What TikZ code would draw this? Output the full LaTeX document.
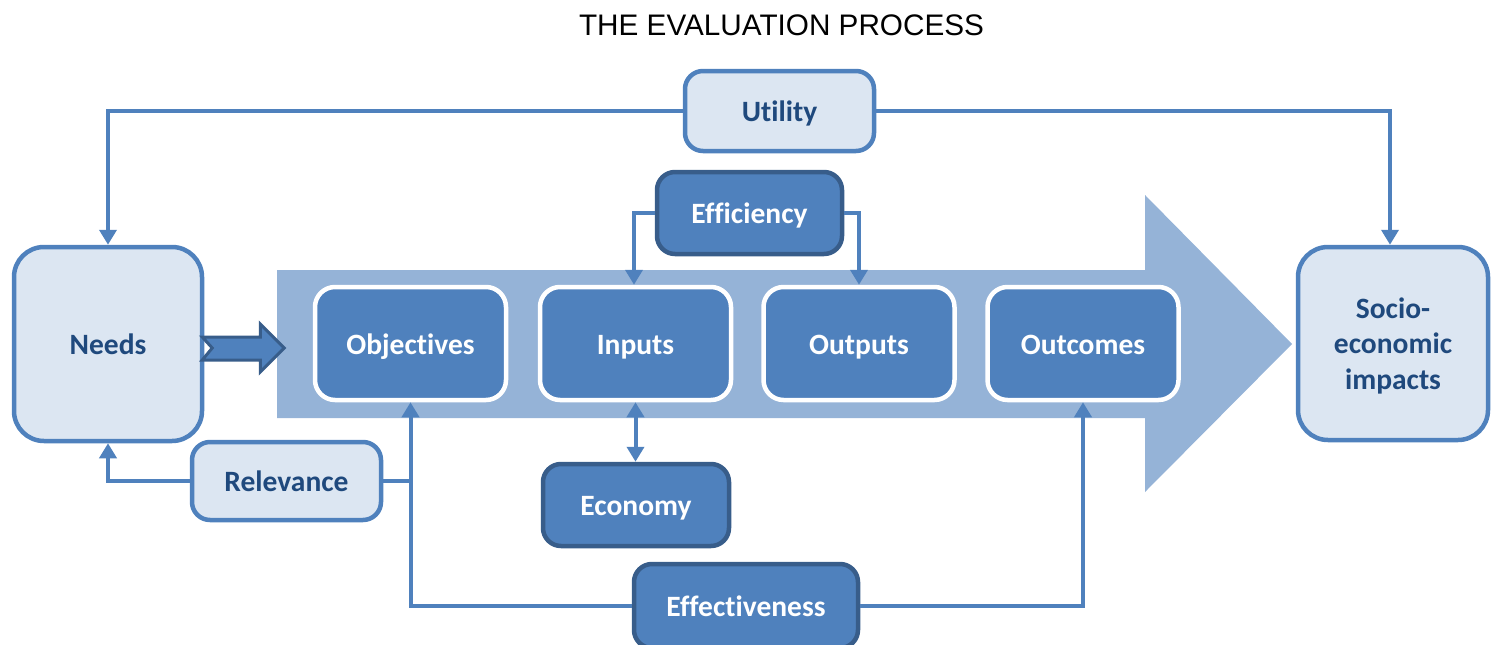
\documentclass[tikz,border=0pt]{standalone}
\usepackage{fontspec}
\setmainfont{Carlito}[Ligatures=NoCommon]
\newfontfamily\titlefont{Liberation Sans}
\usetikzlibrary{arrows.meta,calc}
\definecolor{lightfill}{HTML}{DCE6F2}
\definecolor{midblue}{HTML}{4F81BD}
\definecolor{darkblue}{HTML}{385D8A}
\definecolor{arrowblue}{HTML}{95B3D7}
\definecolor{textblue}{HTML}{1F497D}
\tikzset{
  basebox/.style={rounded corners=#1, line width=4.5pt, inner sep=0pt, align=center,
    font=\fontsize{29.5}{35.5}\selectfont\bfseries},
  oneline/.style={text height=21pt, text depth=0pt},
  lightbox/.style={basebox=#1, fill=lightfill, draw=midblue, text=textblue},
  darkbox/.style={basebox=#1, fill=midblue, draw=darkblue, text=white, oneline},
  stagebox/.style={basebox=20pt, fill=midblue, draw=white, text=white, oneline,
    minimum width=191pt, minimum height=113pt},
  conn/.style={draw=midblue, line width=4pt},
  tip/.style={-{Triangle[width=17pt,length=15pt]}},
  dtip/.style={{Triangle[width=17pt,length=15pt]}-{Triangle[width=17pt,length=15pt]}},
}
\begin{document}
\begin{tikzpicture}[x=1pt,y=-1pt]
\useasboundingbox (0,0) rectangle (1497,645);
% big process arrow
\fill[arrowblue] (277,270) -- (1145,270) -- (1145,195) -- (1292,344) -- (1145,492) -- (1145,418) -- (277,418) -- cycle;
% title
\node (title) at (781.5,25) {\titlefont\fontsize{29.7}{34}\selectfont THE EVALUATION PROCESS};
% boxes
\node[lightbox=30pt, oneline, minimum width=188pt, minimum height=194pt] (needs) at (108,344) {Needs};
\node[lightbox=30pt, text depth=0pt, minimum width=190pt, minimum height=193pt] (socio) at (1393,343.5) {Socio-\\economic\\impacts};
\node[lightbox=18pt, oneline, minimum width=189pt, minimum height=80pt] (utility) at (779.5,111) {Utility};
\node[darkbox=18pt, minimum width=185pt, minimum height=82pt] (efficiency) at (749.5,213) {Efficiency};
\node[stagebox] (objectives) at (410.5,343.5) {Objectives};
\node[stagebox] (inputs) at (635.5,343.5) {Inputs};
\node[stagebox] (outputs) at (859,343.5) {Outputs};
\node[stagebox] (outcomes) at (1083,343.5) {Outcomes};
\node[darkbox=18pt, minimum width=186pt, minimum height=82pt] (economy) at (636,505) {Economy};
\node[lightbox=18pt, oneline, minimum width=189pt, minimum height=78pt] (relevance) at (286.5,481) {Relevance};
\node[darkbox=18pt, minimum width=224pt, minimum height=84pt] (effectiveness) at (746,606) {Effectiveness};
% needs -> objectives block arrow
\begin{scope}[shift={($(needs.east)+(0,4)$)}]
\filldraw[fill=midblue, draw=darkblue, line width=3pt, line join=miter]
  (-2,-11) -- (8,0) -- (-2,12) -- (56,12) -- (56,24) -- (80,0) -- (56,-24) -- (56,-11) -- cycle;
\end{scope}
% connectors
\draw[conn,tip] (utility.west) -| (needs.north);
\draw[conn,tip] (utility.east) -| ([xshift=-3pt]socio.north);
\draw[conn,tip] (efficiency.west) -| ([xshift=-1.5pt]inputs.north);
\draw[conn,tip] (efficiency.east) -| (outputs.north);
\draw[conn,dtip] (inputs.south) -- (inputs.south |- economy.north);
\draw[conn,tip] (relevance.west) -| (needs.south);
\coordinate (junction) at (objectives.south |- relevance.east);
\draw[conn] (relevance.east) -- (junction);
\draw[conn,tip] (effectiveness.west) -| (objectives.south);
\draw[conn,tip] (effectiveness.east) -| (outcomes.south);
\end{tikzpicture}
\end{document}
